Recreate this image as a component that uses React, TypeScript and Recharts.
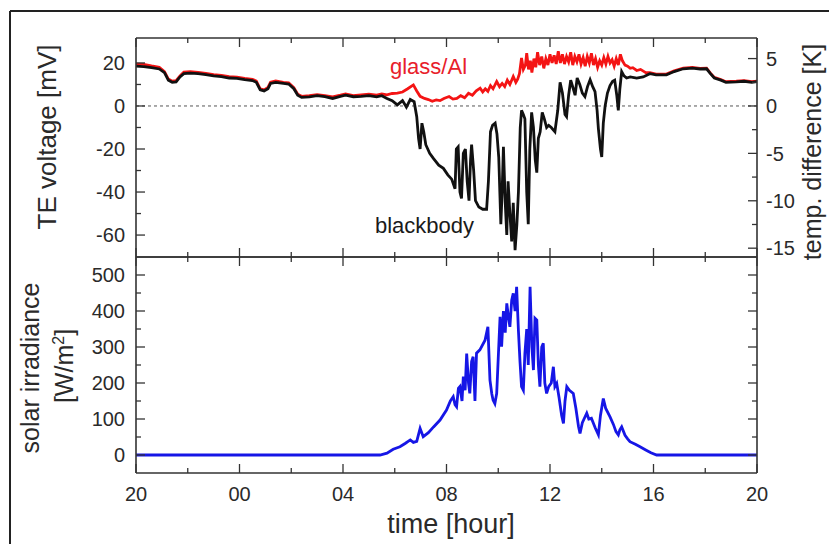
import React from "react"
import { LineChart, Line, XAxis, YAxis, ReferenceLine } from "recharts"

const FONT = '"Liberation Sans", Arial, Helvetica, sans-serif'
const INK = "#2a2a2a"

// time is counted in hours after 20:00 of the first evening
const hourTicks = [0, 2, 4, 6, 8, 10, 12, 14, 16, 18, 20, 22, 24]
const hourMajor = [0, 4, 8, 12, 16, 20, 24]
const hourLabels = ["20", "00", "04", "08", "12", "16", "20"]

const mvTicks = [-60, -50, -40, -30, -20, -10, 0, 10, 20]
const mvMajor = [-60, -40, -20, 0, 20]
const kTicks = [-15, -12.5, -10, -7.5, -5, -2.5, 0, 2.5, 5]
const kMajor = [-15, -10, -5, 0, 5]
const wTicks = [0, 50, 100, 150, 200, 250, 300, 350, 400, 450, 500]
const wMajor = [0, 100, 200, 300, 400, 500]

// blackbody TE voltage [mV]
const blackTime = [
  0, 0.3, 0.6, 0.9, 1.1, 1.25, 1.4, 1.55, 1.7, 1.85, 2.1, 2.4, 2.7, 3.0, 3.3, 3.6, 3.9, 4.2, 4.5, 4.65,
  4.8, 4.95, 5.1, 5.2, 5.4, 5.7, 5.9, 6.1, 6.25, 6.4, 6.7, 7.0, 7.3, 7.6, 7.9, 8.1, 8.4, 8.7, 9.0, 9.3,
  9.5, 9.7, 9.9, 10.1, 10.3, 10.45, 10.6, 10.75, 10.85, 10.92, 10.98, 11.05, 11.12, 11.2, 11.35, 11.5,
  11.7, 11.88, 12.05, 12.2, 12.33, 12.38, 12.45, 12.52, 12.58, 12.65, 12.73, 12.8, 12.87, 12.93, 12.97,
  13.05, 13.12, 13.25, 13.4, 13.55, 13.62, 13.7, 13.78, 13.88, 13.95, 14.02, 14.1, 14.15, 14.2, 14.27,
  14.33, 14.38, 14.45, 14.52, 14.58, 14.65, 14.72, 14.78, 14.85, 14.9, 14.97, 15.03, 15.1, 15.16, 15.22,
  15.29, 15.36, 15.43, 15.49, 15.55, 15.62, 15.7, 15.78, 15.87, 15.95, 16.05, 16.19, 16.3, 16.39, 16.48,
  16.58, 16.64, 16.72, 16.8, 16.9, 16.97, 17.05, 17.15, 17.25, 17.35, 17.45, 17.55, 17.65, 17.74, 17.82,
  17.87, 17.95, 18.0, 18.06, 18.13, 18.22, 18.32, 18.42, 18.5, 18.58, 18.64, 18.7, 18.77, 18.86, 18.96,
  19.1, 19.35, 19.6, 19.86, 20.1, 20.5, 20.8, 21.15, 21.5, 21.8, 22.05, 22.2, 22.35, 22.6, 22.8, 23.2,
  23.5, 23.8, 24,
]
const blackMv = [
  18.5, 18.3, 17.8, 17.2, 15.5, 12, 11, 11.2, 13.5, 15, 15.3, 15, 14.6, 14, 13.6, 13, 12.8, 12.2, 11.8, 11,
  7.5, 7, 8, 10.5, 11, 10.5, 10.2, 8, 5, 4, 4.2, 4.8, 4.3, 3.5, 4.5, 5, 4.3, 4.5, 4.8, 4.2,
  4.8, 3.5, 2.5, 0.5, 2.5, -0.5, 3, 2, -5, -15, -20, -8, -12, -18, -22, -24.5,
  -27.5, -29, -32, -34, -38.5, -20, -19, -40, -43, -22, -20, -35, -44, -25, -18,
  -30, -44, -47, -48, -48, -35, -12, -9, -8, -13, -24, -55, -40, -19, -45,
  -60, -35, -50, -63, -45, -67, -55, -40, -10, -2, -4, -6, -40, -55, -20,
  -3, -10, -25, -31, -15, -12, -3, -6, -10, -9, -10, -12, -2, 11, 6,
  -4, -5, 5, 12, 8, 5, 13, 10, 6, 4.4, 9, 12.2, 9, 6.7, -2,
  -10.5, -20, -23.7, -8, 0, 6, 9.5, 11.5, 12, 5, -2, 8, 16, 14, 13,
  13.5, 13, 13.5, 15, 14.5, 14.5, 16, 17.3, 17.6, 17.2, 17.3, 15, 13, 12, 11, 11.2,
  11.5, 11, 11.3,
]

// glass/Al TE voltage [mV]
const redTime = [
  0, 0.3, 0.6, 0.9, 1.1, 1.25, 1.4, 1.55, 1.7, 1.85, 2.1, 2.4, 2.7, 3.0, 3.3, 3.6, 3.9, 4.2, 4.5, 4.65,
  4.8, 4.95, 5.1, 5.2, 5.4, 5.7, 5.9, 6.1, 6.25, 6.4, 6.7, 7.0, 7.3, 7.6, 7.9, 8.1, 8.4, 8.7, 9.0, 9.3,
  9.5, 9.7, 9.9, 10.1, 10.3, 10.5, 10.72, 10.85, 10.98, 11.15, 11.3, 11.45, 11.6, 11.75, 11.9, 12.1,
  12.25, 12.4, 12.55, 12.7, 12.85, 13.0, 13.15, 13.3, 13.4, 13.5, 13.6, 13.7, 13.8, 13.94, 14.05, 14.15,
  14.25, 14.35, 14.45, 14.58, 14.68, 14.75, 14.82, 14.9, 14.97, 15.05, 15.1, 15.17, 15.24, 15.3, 15.38,
  15.45, 15.52, 15.6, 15.68, 15.76, 15.84, 15.92, 16.0, 16.08, 16.16, 16.24, 16.32, 16.4, 16.48, 16.56,
  16.64, 16.72, 16.8, 16.88, 16.96, 17.04, 17.12, 17.2, 17.28, 17.36, 17.44, 17.52, 17.6, 17.68, 17.76,
  17.84, 17.92, 18.0, 18.08, 18.16, 18.24, 18.32, 18.4, 18.48, 18.56, 18.64, 18.72, 18.8, 18.9, 19.0,
  19.1, 19.2, 19.35, 19.5, 19.7, 19.86, 20.1, 20.5, 20.8, 21.15, 21.5, 21.8, 22.05, 22.2, 22.35, 22.6,
  22.8, 23.2, 23.5, 23.8, 24,
]
const redMv = [
  19.5, 19.3, 18.6, 18, 16, 12.5, 11.5, 11.8, 14, 15.8, 16, 15.6, 15.2, 14.6, 14.2, 13.6, 13.4, 12.8, 12.4, 11.6,
  8, 7.5, 8.6, 11, 11.6, 11, 10.8, 8.5, 5.5, 4.5, 4.8, 5.3, 4.8, 4.2, 5, 5.6, 4.8, 5.2, 5.5, 5,
  5.6, 5.2, 5.8, 6, 6.5, 8, 9.8, 7, 4.5, 3.5, 3, 2.2, 2.8, 2.5, 3.5, 4.4,
  3.2, 3.5, 4.8, 3.8, 5.9, 5, 7, 8.3, 6.5, 8, 6.8, 9.5, 8, 11.4, 9, 10.5,
  9, 12, 10, 13.7, 11, 12.5, 15, 22.3, 17, 19, 24.6, 17, 21, 15.5, 22,
  18, 25, 19, 23, 17.5, 22, 19, 24, 20, 23.5, 19.5, 25.5, 20, 24, 19.5,
  23, 20.5, 25, 19, 23, 20.5, 24, 19.5, 22.5, 18.5, 23, 20, 24.5, 19, 22,
  18, 21, 19, 22.5, 19.5, 23, 20, 21.5, 18.5, 22, 19, 24, 21, 19, 18.5,
  17.5, 17.8, 16.5, 17, 15.5, 15.5, 14.8, 14.8, 16.3, 17.6, 17.9, 17.5, 17.6, 15.3, 13.3, 12.3,
  11.3, 11.5, 11.8, 11.3, 11.6,
]

// solar irradiance [W/m2]
const sunTime = [
  0, 9.43, 9.7, 9.94, 10.2, 10.4, 10.6, 10.72, 10.85, 10.98, 11.1, 11.3, 11.5, 11.75, 12.0, 12.15, 12.26,
  12.33, 12.39, 12.46, 12.52, 12.6, 12.65, 12.72, 12.78, 12.85, 12.9, 12.97, 13.03, 13.1, 13.16, 13.29,
  13.49, 13.6, 13.68, 13.75, 13.8, 13.87, 13.94, 14.07, 14.13, 14.2, 14.27, 14.33, 14.4, 14.45, 14.52,
  14.58, 14.65, 14.71, 14.78, 14.84, 14.9, 14.97, 15.03, 15.1, 15.16, 15.23, 15.3, 15.36, 15.42, 15.49,
  15.55, 15.61, 15.68, 15.74, 15.8, 15.87, 15.95, 16.05, 16.13, 16.19, 16.26, 16.35, 16.45, 16.52, 16.58,
  16.65, 16.75, 16.9, 17.0, 17.1, 17.16, 17.25, 17.42, 17.5, 17.6, 17.75, 17.87, 17.95, 18.06, 18.15,
  18.32, 18.45, 18.55, 18.64, 18.7, 18.77, 18.9, 19.0, 19.09, 19.3, 19.48, 19.7, 19.9, 20.12, 24,
]
const sunW = [
  0, 0, 5, 16, 23, 32, 42, 35, 38, 74, 51, 62, 78, 97, 125, 150, 162,
  140, 134, 185, 190, 150, 218, 180, 282, 200, 171, 260, 273, 150, 283, 292,
  319, 356, 208, 170, 153, 143, 171, 384, 301, 400, 340, 421, 380, 356, 430,
  449, 400, 467, 345, 260, 190, 180, 282, 350, 250, 467, 300, 236, 380, 375,
  250, 190, 300, 310, 200, 171, 190, 200, 245, 190, 199, 160, 110, 88, 150,
  190, 180, 171, 130, 80, 60, 90, 116, 100, 102, 75, 56, 110, 157, 130,
  106, 85, 65, 56, 70, 78, 55, 45, 37, 30, 23, 14, 6, 0, 0,
]

const toRows = (ts: number[], vs: number[]) => ts.map((t, i) => ({ t, v: vs[i] }))
const blackData = toRows(blackTime, blackMv)
const redData = toRows(redTime, redMv)
const sunData = toRows(sunTime, sunW)

type Side = "left" | "right" | "top" | "bottom"

// draws inward ticks (long for major values) and the label outside the frame
const makeTick = (side: Side, major: number[], label?: (v: number) => string) => (p: any) => {
  const { x, y, payload } = p
  const v = payload.value
  const big = major.includes(v)
  const len = big ? 9 : 5
  let x2 = x
  let y2 = y
  if (side === "left") x2 = x + len
  if (side === "right") x2 = x - len
  if (side === "top") y2 = y + len
  if (side === "bottom") y2 = y - len
  let text: React.ReactNode = null
  if (label && big) {
    const s = label(v)
    if (side === "left")
      text = <text x={x - 11} y={y} dy="0.36em" textAnchor="end" fontSize={20} fill={INK} fontFamily={FONT}>{s}</text>
    if (side === "right")
      text = <text x={x + 9} y={y} dy="0.36em" textAnchor="start" fontSize={20} fill={INK} fontFamily={FONT}>{s}</text>
    if (side === "bottom")
      text = <text x={x} y={y + 28} textAnchor="middle" fontSize={20} fill={INK} fontFamily={FONT}>{s}</text>
  }
  return (
    <g>
      <line x1={x} y1={y} x2={x2} y2={y2} stroke="#333" strokeWidth={1.3} />
      {text}
    </g>
  )
}

const axisLine = { stroke: "#333", strokeWidth: 1.6 }
const hourLabel = (v: number) => hourLabels[hourMajor.indexOf(v)]

export default function App() {
  return (
    <div style={{ position: "absolute", left: 0, top: 0, width: 829, height: 544, background: "#fff", overflow: "hidden" }}>
      <div style={{ position: "absolute", left: 0, top: 0 }}>
        <LineChart width={829} height={270} margin={{ top: 28, right: 12, bottom: 3, left: 76 }}>
          <XAxis xAxisId="bottom" dataKey="t" type="number" domain={[0, 24]} ticks={hourTicks} interval={0} allowDataOverflow
            height={10} tickSize={0} tickMargin={0} tickLine={false} axisLine={axisLine} tick={makeTick("bottom", hourMajor)} />
          <XAxis xAxisId="top" orientation="top" dataKey="t" type="number" domain={[0, 24]} ticks={hourTicks} interval={0} allowDataOverflow
            height={10} tickSize={0} tickMargin={0} tickLine={false} axisLine={axisLine} tick={makeTick("top", hourMajor)} />
          <YAxis yAxisId="mv" type="number" domain={[-70.2, 31.6]} ticks={mvTicks} interval={0} width={60} allowDataOverflow
            tickSize={0} tickMargin={0} tickLine={false} axisLine={axisLine} tick={makeTick("left", mvMajor, (v) => String(v))} />
          <YAxis yAxisId="k" orientation="right" type="number" domain={[-15.93, 7.17]} ticks={kTicks} interval={0} width={60} allowDataOverflow
            tickSize={0} tickMargin={0} tickLine={false} axisLine={axisLine} tick={makeTick("right", kMajor, (v) => String(v))} />
          <ReferenceLine xAxisId="bottom" yAxisId="mv" y={0} stroke="#555" strokeWidth={1} strokeDasharray="3 3" />
          <Line xAxisId="bottom" yAxisId="mv" data={redData} dataKey="v" type="linear" dot={false}
            stroke="#f41414" strokeWidth={2.8} isAnimationActive={false} />
          <Line xAxisId="bottom" yAxisId="mv" data={blackData} dataKey="v" type="linear" dot={false}
            stroke="#111" strokeWidth={2.8} isAnimationActive={false} />
          <Line xAxisId="top" yAxisId="k" data={redData} dataKey="v" stroke="none" dot={false} activeDot={false}
            isAnimationActive={false} legendType="none" />
        </LineChart>
      </div>
      <div style={{ position: "absolute", left: 0, top: 240 }}>
        <LineChart width={829} height={304} margin={{ top: 7, right: 12, bottom: 41, left: 76 }}>
          <XAxis xAxisId="bottom" dataKey="t" type="number" domain={[0, 24]} ticks={hourTicks} interval={0} allowDataOverflow
            height={30} tickSize={0} tickMargin={0} tickLine={false} axisLine={axisLine} tick={makeTick("bottom", hourMajor, hourLabel)} />
          <XAxis xAxisId="top" orientation="top" dataKey="t" type="number" domain={[0, 24]} ticks={hourTicks} interval={0} allowDataOverflow
            height={10} tickSize={0} tickMargin={0} tickLine={false} axisLine={axisLine} tick={makeTick("top", hourMajor)} />
          <YAxis yAxisId="w" type="number" domain={[-50, 550]} ticks={wTicks} interval={0} width={60} allowDataOverflow
            tickSize={0} tickMargin={0} tickLine={false} axisLine={axisLine} tick={makeTick("left", wMajor, (v) => String(v))} />
          <YAxis yAxisId="w2" orientation="right" type="number" domain={[-50, 550]} ticks={wTicks} interval={0} width={60} allowDataOverflow
            tickSize={0} tickMargin={0} tickLine={false} axisLine={axisLine} tick={makeTick("right", wMajor)} />
          <Line xAxisId="bottom" yAxisId="w" data={sunData} dataKey="v" type="linear" dot={false}
            stroke="#1616e6" strokeWidth={2.8} isAnimationActive={false} />
          <Line xAxisId="top" yAxisId="w2" data={sunData} dataKey="v" stroke="none" dot={false} activeDot={false}
            isAnimationActive={false} legendType="none" />
        </LineChart>
      </div>
      <svg width={829} height={544} style={{ position: "absolute", left: 0, top: 0, pointerEvents: "none" }}
        fontFamily={FONT}>
        <line x1={10} y1={11} x2={829} y2={11} stroke="#222" strokeWidth={2} />
        <line x1={10} y1={11} x2={10} y2={544} stroke="#222" strokeWidth={2} />
        <text transform="translate(56,137) rotate(-90)" textAnchor="middle" fontSize={26} fill={INK}>TE voltage [mV]</text>
        <text transform="translate(821,152) rotate(-90)" textAnchor="middle" fontSize={25} fill={INK}>temp. difference [K]</text>
        <text transform="translate(39,368) rotate(-90)" textAnchor="middle" fontSize={25} fill={INK}>solar irradiance</text>
        <text transform="translate(73,366) rotate(-90)" textAnchor="middle" fontSize={25} fill={INK}>
          [W/m<tspan dy={-9} fontSize={16}>2</tspan><tspan dy={9}>]</tspan>
        </text>
        <text x={451} y={533} textAnchor="middle" fontSize={27} fill={INK}>time [hour]</text>
        <text x={390} y={74} fontSize={22} fill="#e8202a">glass/Al</text>
        <text x={375} y={233} fontSize={22} fill="#1a1a1a">blackbody</text>
      </svg>
    </div>
  )
}
